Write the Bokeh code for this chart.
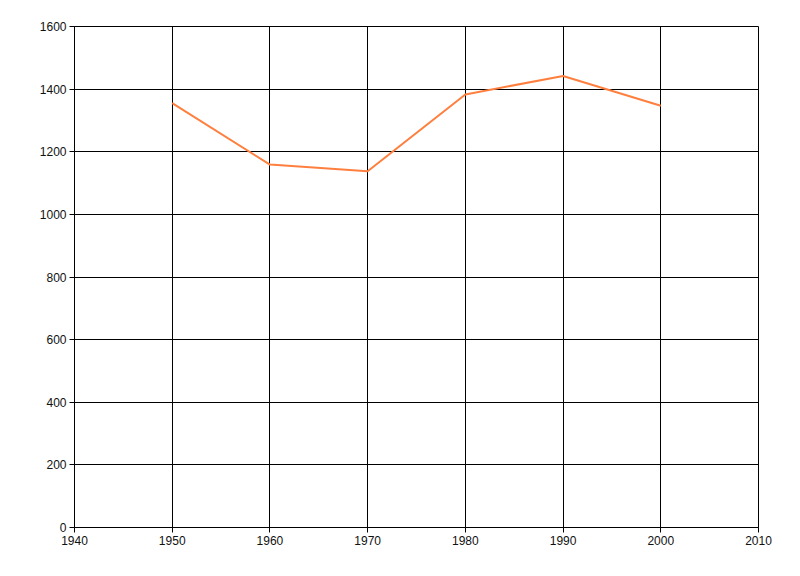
from bokeh.plotting import figure
from bokeh.models import Range1d, FixedTicker
from bokeh.embed import file_html
from bokeh.resources import INLINE

years = [1950, 1960, 1970, 1980, 1990, 2000]
values = [1355, 1159, 1138, 1383, 1442, 1347]
x_ticks = [1940, 1950, 1960, 1970, 1980, 1990, 2000, 2010]
y_ticks = [0, 200, 400, 600, 800, 1000, 1200, 1400, 1600]

p = figure(width=792, height=568, output_backend="svg", toolbar_location=None,
           x_range=Range1d(1940, 2010), y_range=Range1d(0, 1600),
           min_border_left=74, min_border_right=34, min_border_top=26, min_border_bottom=41)
p.background_fill_color = "white"
p.border_fill_color = "white"
p.outline_line_color = "black"
p.outline_line_width = 1

p.line(years, values, line_color="#FF7F3F", line_width=2)

for ax, ticks in ((p.xaxis, x_ticks), (p.yaxis, y_ticks)):
    ax.ticker = FixedTicker(ticks=ticks)
    ax.axis_line_color = "black"
    ax.major_tick_line_color = "black"
    ax.minor_tick_line_color = None
    ax.major_tick_in = 0
    ax.major_tick_out = 5
    ax.major_label_text_font = "Liberation Sans"
    ax.major_label_text_font_size = "12px"
    ax.major_label_text_color = "#111111"
    ax.major_label_standoff = 3

for g in (p.xgrid, p.ygrid):
    g.grid_line_color = "black"
    g.grid_line_width = 1
    g.grid_line_alpha = 1.0
p.xgrid.ticker = FixedTicker(ticks=x_ticks)
p.ygrid.ticker = FixedTicker(ticks=y_ticks)

open("out.html", "w").write(file_html(p, INLINE))
